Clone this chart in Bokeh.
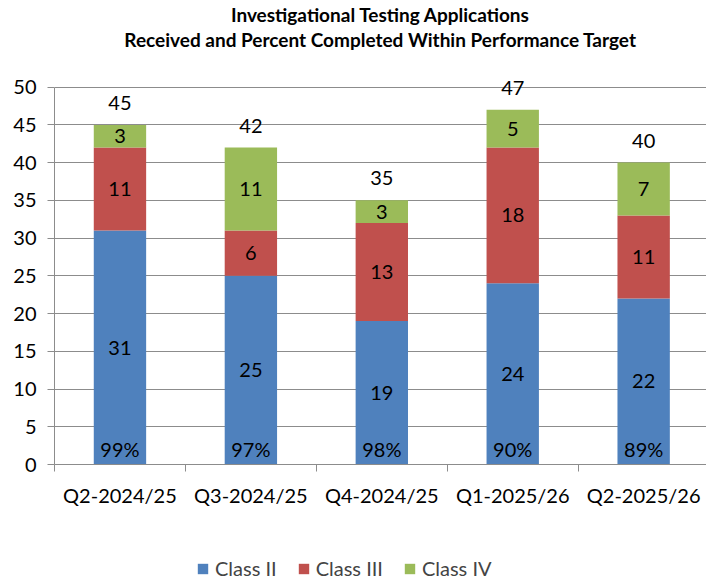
from bokeh.plotting import figure
from bokeh.layouts import column
from bokeh.models import (ColumnDataSource, FixedTicker, Legend, LegendItem, Range1d, Title)
from bokeh.core.properties import value
from bokeh.embed import file_html
from bokeh.resources import INLINE

quarters = ["Q2-2024/25", "Q3-2024/25", "Q4-2024/25", "Q1-2025/26", "Q2-2025/26"]
class_ii = [31, 25, 19, 24, 22]
class_iii = [11, 6, 13, 18, 11]
class_iv = [3, 11, 3, 5, 7]
pct_within_target = ["99%", "97%", "98%", "90%", "89%"]
y_ticks = [0, 5, 10, 15, 20, 25, 30, 35, 40, 45, 50]
series_names = ["Class II", "Class III", "Class IV"]
title_lines = ["Investigational Testing Applications",
               "Received and Percent Completed Within Performance Target"]

FONT = "Lato"
BLUE, RED, GREEN = "#4F81BD", "#C0504D", "#9BBB59"
COLORS = [BLUE, RED, GREEN]
GRID = "#8C8C8C"
FS = "20px"

n = len(quarters)
xs = [i + 0.5 for i in range(n)]
totals = [a + b + c for a, b, c in zip(class_ii, class_iii, class_iv)]
src = ColumnDataSource(dict(
    x=xs,
    b3=class_ii, t3=[a + b for a, b in zip(class_ii, class_iii)], t4=totals,
    m2=[a / 2 for a in class_ii],
    m3=[a + b / 2 for a, b in zip(class_ii, class_iii)],
    m4=[a + b + c / 2 for a, b, c in zip(class_ii, class_iii, class_iv)],
    l2=[str(v) for v in class_ii], l3=[str(v) for v in class_iii],
    l4=[str(v) for v in class_iv], lt=[str(v) for v in totals],
    pct=pct_within_target, zero=[0] * n,
))

p = figure(width=706, height=514, output_backend="svg", toolbar_location=None,
           x_range=Range1d(0, n - 0.02), y_range=Range1d(0, 53),
           min_border_left=54, min_border_right=0, min_border_bottom=50,
           min_border_top=0, title=None)
p.outline_line_color = None
p.background_fill_color = "white"
p.border_fill_color = "white"

tstyle = dict(align="center", text_font=FONT, text_font_size="19px",
              text_font_style="bold", text_color="black", offset=0)
spacer = Title(text=" ", standoff=10, align="center", text_font=FONT,
               text_font_size="1px", offset=0)
t2 = Title(text=title_lines[1], standoff=1, **tstyle)
t1 = Title(text=title_lines[0], standoff=0, **tstyle)
p.add_layout(spacer, "above")
p.add_layout(t2, "above")
p.add_layout(t1, "above")

W = 0.4
bars = [
    p.vbar(x="x", width=W, bottom="zero", top="b3", source=src, fill_color=BLUE, line_color=None),
    p.vbar(x="x", width=W, bottom="b3", top="t3", source=src, fill_color=RED, line_color=None),
    p.vbar(x="x", width=W, bottom="t3", top="t4", source=src, fill_color=GREEN, line_color=None),
]

common = dict(source=src, text_font=value(FONT), text_font_size=FS,
              text_align="center", text_color="black")
p.text(x="x", y="m2", text="l2", text_baseline="middle", **common)
p.text(x="x", y="m3", text="l3", text_baseline="middle", **common)
p.text(x="x", y="m4", text="l4", text_baseline="middle", **common)
p.text(x="x", y="t4", text="lt", text_baseline="bottom", y_offset=-15, **common)
p.text(x="x", y="zero", text="pct", text_baseline="bottom", y_offset=-4, **common)

yax = p.yaxis[0]
yax.ticker = FixedTicker(ticks=y_ticks)
yax.bounds = (y_ticks[0], y_ticks[-1])
yax.axis_line_color = GRID
yax.major_tick_line_color = GRID
yax.major_tick_out = 7
yax.major_tick_in = 0
yax.minor_tick_line_color = None
yax.major_label_text_font = FONT
yax.major_label_text_font_size = FS
yax.major_label_text_color = "black"
yax.major_label_standoff = 11

xax = p.xaxis[0]
xax.ticker = FixedTicker(ticks=xs, minor_ticks=list(range(n + 1)))
xax.major_label_overrides = {x: q for x, q in zip(xs, quarters)}
xax.axis_line_color = GRID
xax.major_tick_line_color = None
xax.minor_tick_line_color = GRID
xax.minor_tick_out = 7
xax.minor_tick_in = 0
xax.major_label_text_font = FONT
xax.major_label_text_font_size = FS
xax.major_label_text_color = "black"
xax.major_label_standoff = 11

p.ygrid.ticker = FixedTicker(ticks=y_ticks)
p.ygrid.grid_line_color = GRID
p.xgrid.grid_line_color = None

# legend strip below the chart (glyphs drawn outside its visible range)
lf = figure(width=706, height=66, output_backend="svg", toolbar_location=None,
            x_range=Range1d(0, 1), y_range=Range1d(1000, 1001),
            x_axis_location=None, y_axis_location=None, min_border=0)
lf.outline_line_color = None
lf.grid.grid_line_color = None
lrs = [lf.vbar(x="x", width=W, bottom="zero", top="t4", source=src,
               fill_color=c, line_color=None) for c in COLORS]
legend = Legend(items=[LegendItem(label=s, renderers=[r]) for s, r in zip(series_names, lrs)],
                orientation="horizontal", location=(142, 0),
                label_text_font=FONT, label_text_font_size="20px",
                glyph_width=13, glyph_height=13, spacing=20,
                label_standoff=6, border_line_color=None,
                background_fill_alpha=0, margin=0, padding=0)
lf.add_layout(legend, "center")

layout = column(p, lf, spacing=0)
open("out.html", "w").write(file_html(layout, INLINE))
